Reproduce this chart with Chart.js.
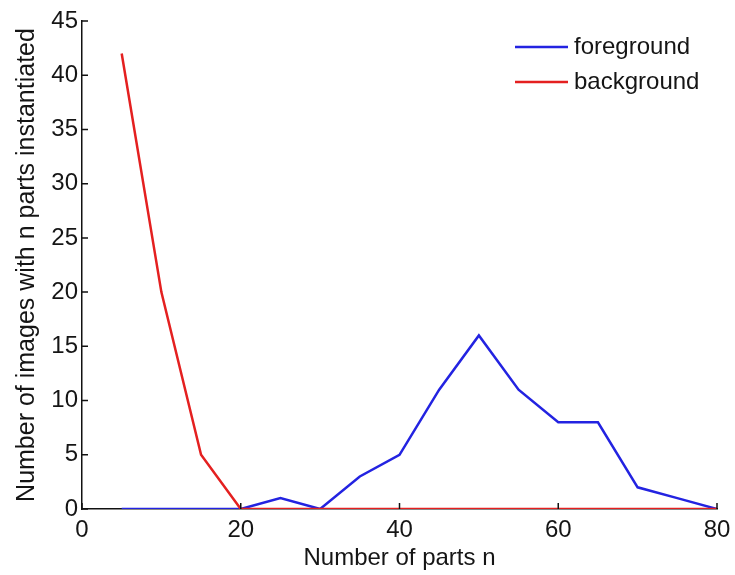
<!DOCTYPE html>
<html>
<head>
<meta charset="utf-8">
<script src="https://cdn.jsdelivr.net/npm/chart.js@4/dist/chart.umd.min.js"></script>
<style>
  html, body { margin: 0; padding: 0; background: #fff; }
  #wrap { width: 735px; height: 575px; position: relative; }
</style>
</head>
<body>
<div id="wrap"><canvas id="c" width="735" height="575"></canvas></div>
<script>
// Number of parts n (x values)
const partsN = [5, 10, 15, 20, 25, 30, 35, 40, 45, 50, 55, 60, 65, 70, 75, 80];
// Images with n parts instantiated
const foreground = [0, 0, 0, 0, 1, 0, 3, 5, 11, 16, 11, 8, 8, 2, 1, 0];
const background = [42, 20, 5, 0, 0, 0, 0, 0, 0, 0, 0, 0, 0, 0, 0, 0];
const xTicks = [0, 20, 40, 60, 80];
const yTicks = [0, 5, 10, 15, 20, 25, 30, 35, 40, 45];
const seriesNames = ['foreground', 'background'];

const FONT = '"Liberation Sans", Arial, sans-serif';
const TEXT = '#151515';
const toPoints = (ys) => partsN.map((x, i) => ({ x: x, y: ys[i] }));

// Inward tick marks on the left and bottom axes
const innerTicks = {
  id: 'innerTicks',
  afterDatasetsDraw(chart) {
    const { ctx, chartArea, scales } = chart;
    ctx.save();
    ctx.strokeStyle = '#111';
    ctx.lineWidth = 1.5;
    ctx.beginPath();
    xTicks.forEach(v => {
      const px = scales.x.getPixelForValue(v);
      ctx.moveTo(px, chartArea.bottom);
      ctx.lineTo(px, chartArea.bottom - 6);
    });
    yTicks.forEach(v => {
      const py = scales.y.getPixelForValue(v);
      ctx.moveTo(chartArea.left, py);
      ctx.lineTo(chartArea.left + 6, py);
    });
    ctx.stroke();
    ctx.restore();
  }
};

// Legend box in the upper right of the plot
const lineLegend = {
  id: 'lineLegend',
  afterDraw(chart) {
    const { ctx } = chart;
    ctx.save();
    ctx.font = '24px ' + FONT;
    ctx.textBaseline = 'middle';
    ctx.textAlign = 'left';
    const rows = [47, 82];
    chart.data.datasets.forEach((ds, i) => {
      const y = rows[i];
      ctx.strokeStyle = ds.borderColor;
      ctx.lineWidth = 2.5;
      ctx.beginPath();
      ctx.moveTo(515, y);
      ctx.lineTo(568, y);
      ctx.stroke();
      ctx.fillStyle = TEXT;
      ctx.fillText(ds.label, 574, y);
    });
    ctx.restore();
  }
};

new Chart(document.getElementById('c'), {
  type: 'line',
  data: {
    datasets: [
      {
        label: seriesNames[0],
        data: toPoints(foreground),
        borderColor: 'rgb(35,35,225)',
        borderWidth: 2.5,
        pointRadius: 0,
        tension: 0,
        fill: false,
        order: 2
      },
      {
        label: seriesNames[1],
        data: toPoints(background),
        borderColor: 'rgb(228,32,32)',
        borderWidth: 2.5,
        pointRadius: 0,
        tension: 0,
        fill: false,
        order: 1
      }
    ]
  },
  options: {
    responsive: false,
    animation: false,
    layout: { padding: { left: 0, right: 18, top: 21, bottom: 0 } },
    plugins: {
      legend: { display: false },
      tooltip: { enabled: false }
    },
    scales: {
      x: {
        type: 'linear',
        min: 0,
        max: 80,
        afterBuildTicks: (s) => { s.ticks = xTicks.map(v => ({ value: v })); },
        afterFit: (s) => { s.height = 66; s.paddingLeft = 0; s.paddingRight = 0; },
        grid: { display: false, drawTicks: false },
        border: { display: true, color: '#111', width: 1.5 },
        ticks: {
          color: TEXT,
          font: { family: FONT, size: 24 },
          padding: 7,
          maxRotation: 0
        },
        title: {
          display: true,
          text: 'Number of parts n',
          color: TEXT,
          font: { family: FONT, size: 24 },
          padding: { top: 0, bottom: 2 }
        }
      },
      y: {
        type: 'linear',
        min: 0,
        max: 45,
        afterBuildTicks: (s) => { s.ticks = yTicks.map(v => ({ value: v })); },
        afterFit: (s) => { s.width = 82; s.paddingTop = 0; s.paddingBottom = 0; },
        grid: { display: false, drawTicks: false },
        border: { display: true, color: '#111', width: 1.5 },
        ticks: {
          color: TEXT,
          font: { family: FONT, size: 24 },
          padding: 4
        },
        title: {
          display: true,
          text: 'Number of images with n parts instantiated',
          color: TEXT,
          font: { family: FONT, size: 25 },
          padding: { top: 12, bottom: 0 }
        }
      }
    }
  },
  plugins: [innerTicks, lineLegend]
});
</script>
</body>
</html>
